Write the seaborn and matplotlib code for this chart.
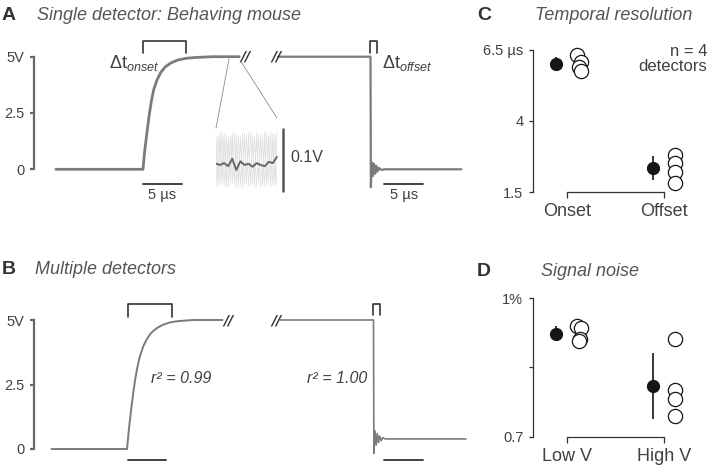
import matplotlib
matplotlib.use("Agg")
import matplotlib.pyplot as plt
import seaborn as sns
import numpy as np
import pandas as pd
from matplotlib.lines import Line2D

# ---- values ----
# A: single detector, time in µs from the edge, volts
a_onset_t = [-11.3, 0, 0.2, 0.5, 0.8, 1.1, 1.4, 1.8, 2.3, 2.9, 3.6, 4.5, 5.6, 7.0, 9.0, 12.5]
a_onset_v = [0, 0, 0.75, 1.6, 2.4, 3.05, 3.55, 3.95, 4.3, 4.55, 4.72, 4.85, 4.93, 4.97, 5.0, 5.0]
a_offset_t = [-12.0, 0, 0.05, 0.15, 0.3, 0.45, 0.6, 0.75, 0.9, 1.1, 1.4, 1.8, 11.8]
a_offset_v = [5, 5, -0.8, 0.3, -0.3, 0.25, -0.2, 0.15, -0.1, 0.06, -0.03, 0, 0]

# A inset: plateau noise (mV), mean trace and a few raw sweeps
noise_mean = [-6, -8, -5, -10, 2, -16, -2, -8, -6, -11, -5, -8, -10, -3, -5, 5]
sweep1 = [40, -42, 45, -38, 44, -45, 39, -41, 46, -40, 42, -44, 38, -46, 43, -39,
          45, -42, 40, -45, 44, -38, 41, -43, 46, -40, 39, -44, 42, -41, 45]
sweep2 = [-44, 38, -40, 46, -42, 41, -45, 39, -38, 44, -46, 40, -41, 45, -39, 42,
          -43, 46, -40, 38, -44, 41, -45, 39, -42, 44, -38, 45, -41, 40, -43]
sweep3 = [20, -30, 35, -25, 30, -35, 28, -22, 33, -31, 25, -34, 30, -26, 35, -28,
          22, -33, 31, -27, 34, -24, 29, -35, 26, -30, 33, -21, 28, -32, 30]

# B: multiple detectors (fitted average)
b_onset_t = [-9.8, 0, 0.2, 0.39, 0.6, 0.82, 1.04, 1.26, 1.5, 1.69, 2.1, 2.56, 3.0, 3.43,
             4.0, 4.72, 5.5, 6.45, 8.5, 12.4]
b_onset_v = [0, 0, 0.62, 1.15, 1.68, 2.2, 2.65, 3.03, 3.38, 3.6, 3.97, 4.25, 4.45, 4.58,
             4.71, 4.82, 4.9, 4.95, 5.0, 5.0]
b_offset_t = [-12.1, 0, 0.05, 0.2, 0.35, 0.5, 0.65, 0.8, 1.0, 1.2, 1.5, 12.0]
b_offset_v = [5, 5, -0.17, 0.7, 0.15, 0.6, 0.25, 0.5, 0.32, 0.44, 0.39, 0.39]

# C: temporal resolution (µs), one value per detector
c_labels = ['Onset', 'Offset']
c_onset = [6.32, 6.09, 5.91, 5.77]
c_offset = [2.80, 2.53, 2.21, 1.82]

# D: signal noise (%)
d_labels = ['Low V', 'High V']
d_low = [0.940, 0.935, 0.911, 0.907]
d_high = [0.911, 0.801, 0.782, 0.745]

W, H = 708, 471
TXT = '#404040'
TRACE = '#7b7b7b'
DARK = '#333333'

sns.set_style('ticks')
plt.rcParams['font.family'] = ['Liberation Sans', 'DejaVu Sans']
plt.rcParams['mathtext.fontset'] = 'custom'
plt.rcParams['mathtext.rm'] = 'Liberation Sans'
plt.rcParams['mathtext.it'] = 'Liberation Sans:italic'
plt.rcParams['text.color'] = TXT
plt.rcParams['xtick.color'] = TXT
plt.rcParams['ytick.color'] = TXT


def box(x0, y0, x1, y1):
    return [x0 / W, 1 - y1 / H, (x1 - x0) / W, (y1 - y0) / H]


def fx(px):
    return px / W


def fy(py):
    return 1 - py / H


fig = plt.figure(figsize=(W / 100, H / 100), dpi=100)


def trace_axes(rect, t_left, t_right, spine_w):
    ax = fig.add_axes(rect)
    ax.set_xlim(t_left, t_right)
    ax.set_ylim(0, 5)
    sns.despine(ax=ax, bottom=True)
    ax.spines['left'].set_color('#666666')
    ax.spines['left'].set_linewidth(spine_w)
    ax.set_xticks([])
    ax.set_yticks([0, 2.5, 5], ['0', '2.5', '5V'], fontsize=10.5)
    ax.tick_params(axis='y', length=3, width=spine_w, color='#666666', pad=4)
    ax.patch.set_alpha(0)
    return ax


def bracket(ax, x0, x1, top, leg):
    ax.plot([x0, x0, x1, x1], [leg, top, top, leg], color=DARK, lw=1.2, clip_on=False)


def brk(ax, x, y):
    ax.text(x, y, '//', fontsize=10, fontweight='bold', color=DARK, ha='center', va='center',
            family='DejaVu Sans', style='italic')


# ---------------- Panel A ----------------
pxu = 7.7  # px per µs
ax_a = trace_axes(box(34, 56.7, 470, 169.3), (34 - 143) / pxu, (470 - 143) / pxu, 1.6)
shift_a = (370.5 - 143) / pxu
sns.lineplot(x=a_onset_t, y=a_onset_v, ax=ax_a, color=TRACE, lw=2, estimator=None, sort=False)
sns.lineplot(x=np.array(a_offset_t) + shift_a, y=a_offset_v, ax=ax_a, color=TRACE, lw=1.6,
             estimator=None, sort=False)
for ln in ax_a.lines:
    ln.set_clip_on(False)
bracket(ax_a, 0, 5.6, 5.71, 5.15)
bracket(ax_a, shift_a - 0.07, shift_a + 0.84, 5.71, 5.15)
brk(ax_a, (245 - 143) / pxu, 5.0)
brk(ax_a, (276 - 143) / pxu, 5.0)
ax_a.text(2.2, 4.72, 'Δt$_{onset}$', fontsize=13, ha='right', va='center')
ax_a.text(shift_a + 1.5, 4.72, 'Δt$_{offset}$', fontsize=13, ha='left', va='center')
# 5 µs scale bars
for x0 in [0, shift_a + 1.8]:
    ax_a.plot([x0, x0 + 5], [-0.64, -0.64], color=DARK, lw=1.3, clip_on=False)
    ax_a.text(x0 + 2.5, -0.85, '5 µs', fontsize=10.5, ha='center', va='top')

# inset with plateau noise
ax_in = fig.add_axes(box(216, 129, 285, 191))
ax_in.set_xlim(0, 17.0)
ax_in.set_ylim(-50, 50)
ax_in.axis('off')
for sw in [sweep1, sweep2, sweep3]:
    sns.lineplot(x=np.linspace(0, 15, len(sw)), y=sw, ax=ax_in, color='#dedede', lw=0.45,
                 estimator=None, sort=False)
sns.lineplot(x=np.arange(len(noise_mean)), y=noise_mean, ax=ax_in, color='#666666', lw=1.4,
             estimator=None, sort=False)
ax_in.plot([16.5, 16.5], [-50, 50], color='#555555', lw=1.8, clip_on=False)
ax_in.text(18.3, 4, '0.1V', fontsize=11.5, ha='left', va='center')

for (x0, y0, x1, y1) in [(229, 59, 216, 128), (240, 60, 277, 118)]:
    fig.add_artist(Line2D([fx(x0), fx(x1)], [fy(y0), fy(y1)], transform=fig.transFigure,
                          color='#8a8a8a', lw=0.6))

# ---------------- Panel B ----------------
ax_b = trace_axes(box(34, 320, 470, 449), (34 - 127) / pxu, (470 - 127) / pxu, 1.6)
shift_b = (373.5 - 127) / pxu
sns.lineplot(x=b_onset_t, y=b_onset_v, ax=ax_b, color=TRACE, lw=1.4, estimator=None, sort=False)
sns.lineplot(x=np.array(b_offset_t) + shift_b, y=b_offset_v, ax=ax_b, color=TRACE, lw=1.2,
             estimator=None, sort=False)
for ln in ax_b.lines:
    ln.set_clip_on(False)
bracket(ax_b, 0.17, 5.8, 5.61, 5.13)
bracket(ax_b, shift_b, shift_b + 0.85, 5.61, 5.2)
brk(ax_b, (228 - 127) / pxu, 5.0)
brk(ax_b, (276 - 127) / pxu, 5.0)
for x0 in [0.1, shift_b + 1.4]:
    ax_b.plot([x0, x0 + 5], [-0.43, -0.43], color=DARK, lw=1.3, clip_on=False)
ax_b.text((181 - 127) / pxu, 2.75, 'r² = 0.99', fontsize=11.5, style='italic', ha='center', va='center')
ax_b.text((337 - 127) / pxu, 2.75, 'r² = 1.00', fontsize=11.5, style='italic', ha='center', va='center')


# ---------------- Panels C and D ----------------
def dot_panel(rect, ylim, labels, groups, yticks, yticklabels, jit):
    ax = fig.add_axes(rect)
    ax.patch.set_alpha(0)
    df = pd.DataFrame({'cond': np.repeat(labels, [len(g) for g in groups]),
                       'val': np.concatenate(groups)})
    df['idx'] = df['cond'].map({c: i for i, c in enumerate(labels)})
    df['xpos'] = df['idx'] + 0.11 + np.concatenate(jit)
    stats = df.groupby('idx')['val'].agg(['mean', 'std'])
    ax.errorbar(stats.index - 0.11, stats['mean'], yerr=stats['std'], fmt='o', color='#151515',
                ms=8.5, elinewidth=1.2, capsize=0, clip_on=False, zorder=3)
    sns.scatterplot(data=df, x='xpos', y='val', ax=ax, s=105, color='white', edgecolor='#151515',
                    linewidth=0.9, legend=False, zorder=4, clip_on=False)
    ax.set_xlim(-0.346, 1.453)
    ax.set_ylim(*ylim)
    sns.despine(ax=ax)
    for s in ['left', 'bottom']:
        ax.spines[s].set_color(DARK)
        ax.spines[s].set_linewidth(0.9)
    ax.spines['bottom'].set_bounds(0, 1)
    ax.set_xticks([0, 1], labels, fontsize=13)
    ax.set_yticks(yticks, yticklabels, fontsize=10.5)
    ax.tick_params(axis='x', length=4, width=0.9, color=DARK, pad=4)
    ax.tick_params(axis='y', length=3, width=0.9, color=DARK, pad=4)
    ax.set_xlabel('')
    ax.set_ylabel('')
    return ax


ax_c = dot_panel(box(533, 50, 708, 192), (1.5, 6.5), c_labels, [c_onset, c_offset],
                 [1.5, 4, 6.5], ['1.5', '4', '6.5 µs'],
                 [[0.0, 0.04, 0.02, 0.04], [0, 0, 0, 0]])
ax_d = dot_panel(box(533, 298, 708, 437), (0.7, 1.0), d_labels, [d_low, d_high],
                 [0.7, 0.85, 1.0], ['0.7', '', '1%'],
                 [[0.0, 0.04, 0.03, 0.02], [0, 0, 0, 0]])
fig.text(fx(707), fy(59), 'n = 4\ndetectors', fontsize=12, ha='right', va='center',
         multialignment='right', linespacing=1.05)

# ---------------- panel letters and titles ----------------
for letter, lx, ty, tx, title in [('A', 2, 15, 37, 'Single detector: Behaving mouse'),
                                  ('B', 2, 270, 35, 'Multiple detectors'),
                                  ('C', 477, 15, 535, 'Temporal resolution'),
                                  ('D', 477, 271, 541, 'Signal noise')]:
    fig.text(fx(lx), fy(ty), letter, fontsize=14, fontweight='bold', color='#333333',
             ha='left', va='center')
    fig.text(fx(tx), fy(ty), title, fontsize=13, style='italic', color='#555555',
             ha='left', va='center')

fig.savefig('out.png', dpi=100)
